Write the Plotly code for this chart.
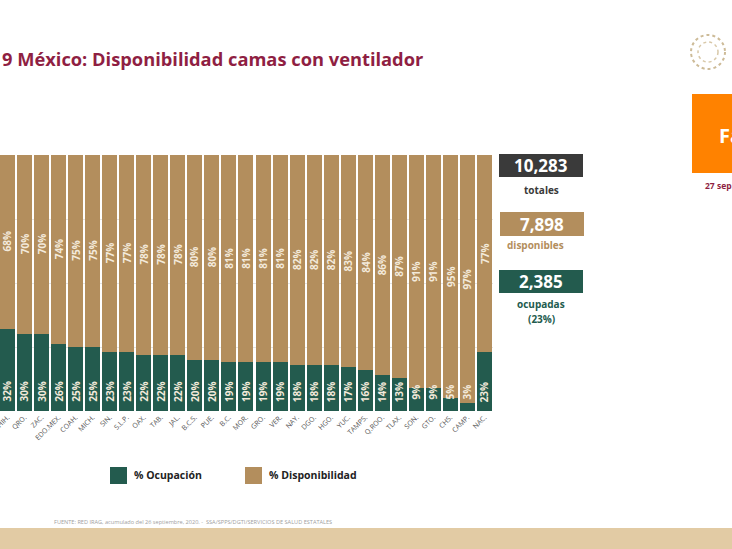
import plotly.graph_objects as go

W, H = 732, 549

estados = ["CHIH.", "QRO.", "ZAC.", "EDO.MEX.", "COAH.", "MICH.", "SIN.", "S.L.P.", "OAX.", "TAB.",
           "JAL.", "B.C.S.", "PUE.", "B.C.", "MOR.", "GRO.", "VER.", "NAY.", "DGO.", "HGO.",
           "YUC.", "TAMPS.", "Q.ROO.", "TLAX.", "SON.", "GTO.", "CHS.", "CAMP.", "NAC."]
ocupacion = [32, 30, 30, 26, 25, 25, 23, 23, 22, 22, 22, 20, 20, 19, 19, 19, 19, 18, 18, 18,
             17, 16, 14, 13, 9, 9, 5, 3, 23]
disponibilidad = [68, 70, 70, 74, 75, 75, 77, 77, 78, 78, 78, 80, 80, 81, 81, 81, 81, 82, 82, 82,
                  83, 84, 86, 87, 91, 91, 95, 97, 77]

series_names = ["% Ocupación", "% Disponibilidad"]
totales = "10,283"
disponibles = "7,898"
ocupadas = "2,385"
ocupadas_pct = "(23%)"

title = "9 México: Disponibilidad camas con ventilador"
source = "FUENTE: RED IRAG, acumulado del 26 septiembre, 2020. -  SSA/SPPS/DGTI/SERVICIOS DE SALUD ESTATALES"

GREEN = "#235B4E"
TAN = "#B38E5D"
MAROON = "#8F1F43"
DARK = "#3A3A3A"
FONT = "Open Sans"
LABEL = "#F3EADB"


def px(x):
    return x / W


def py(y):
    return 1 - y / H


fig = go.Figure()
fig.add_trace(go.Bar(x=estados, y=ocupacion, name=series_names[0], marker_color=GREEN,
                     marker_line_width=0, showlegend=False, hoverinfo="skip"))
fig.add_trace(go.Bar(x=estados, y=disponibilidad, name=series_names[1], marker_color=TAN,
                     marker_line_width=0, showlegend=False, hoverinfo="skip"))

annotations = []
for e, o, d in zip(estados, ocupacion, disponibilidad):
    annotations.append(dict(x=e, y=7.4, xref="x", yref="y", text=f"{o}%", showarrow=False,
                            xanchor="center", yanchor="middle", textangle=-90,
                            font=dict(family=FONT, size=10, color=LABEL, weight="bold")))
    annotations.append(dict(x=e, y=o + d / 2, xref="x", yref="y", text=f"{d}%", showarrow=False,
                            xanchor="center", yanchor="middle", textangle=-90,
                            font=dict(family=FONT, size=10, color=LABEL, weight="bold")))

shapes = []
# bottom band
shapes.append(dict(type="rect", xref="paper", yref="paper", x0=0, x1=1, y0=0, y1=py(528),
                   fillcolor="#E2CBA4", line_width=0, layer="below"))
# orange box
shapes.append(dict(type="rect", xref="paper", yref="paper", x0=px(692), x1=1.01, y0=py(173), y1=py(94),
                   fillcolor="#FF8200", line_width=0))
# seal
shapes.append(dict(type="circle", xref="paper", yref="paper", x0=px(691), x1=px(725), y0=py(69), y1=py(35),
                   fillcolor="rgba(0,0,0,0)", line=dict(color="#CDBB98", width=2, dash="dot")))
shapes.append(dict(type="circle", xref="paper", yref="paper", x0=px(698), x1=px(718), y0=py(62), y1=py(42),
                   fillcolor="rgba(0,0,0,0)", line=dict(color="#D8C8A8", width=1.5, dash="dot")))

# right panel boxes
boxes = [(499, 583, 154, 177, DARK, totales), (500, 584, 212, 236, TAN, disponibles),
         (499, 583, 270, 293, GREEN, ocupadas)]
for x0, x1, y0, y1, c, t in boxes:
    shapes.append(dict(type="rect", xref="paper", yref="paper", x0=px(x0), x1=px(x1), y0=py(y1), y1=py(y0),
                       fillcolor=c, line_width=0))
    annotations.append(dict(x=px((x0 + x1) / 2), y=py((y0 + y1) / 2), text=t,
                            font=dict(family=FONT, size=17, color="white", weight="bold")))

annotations += [
    dict(x=px(541), y=py(190), text="totales", font=dict(family=FONT, size=10, color=DARK, weight="bold")),
    dict(x=px(535), y=py(245), text="disponibles", font=dict(family=FONT, size=10, color=TAN, weight="bold")),
    dict(x=px(541), y=py(304), text="ocupadas", font=dict(family=FONT, size=10, color=GREEN, weight="bold")),
    dict(x=px(541), y=py(319), text=ocupadas_pct, font=dict(family=FONT, size=10, color=GREEN, weight="bold")),
    dict(x=px(717), y=py(135), text="Fa", xanchor="left", font=dict(family=FONT, size=20, color="white", weight="bold")),
    dict(x=px(703), y=py(185), text="27 sep", xanchor="left", font=dict(family=FONT, size=8.5, color=MAROON, weight="bold")),
    dict(x=0, y=py(59), text=title, xanchor="left", font=dict(family=FONT, size=18.3, color=MAROON, weight="bold")),
    dict(x=px(52), y=py(522), text=source, xanchor="left", font=dict(family=FONT, size=5.6, color="#A0A0A0")),
]

# custom legend
legend_items = [(110, series_names[0], GREEN), (245, series_names[1], TAN)]
for lx, name, c in legend_items:
    shapes.append(dict(type="rect", xref="paper", yref="paper", x0=px(lx), x1=px(lx + 17), y0=py(484), y1=py(467),
                       fillcolor=c, line_width=0))
    annotations.append(dict(x=px(lx + 22), y=py(475), text=name, xanchor="left",
                            font=dict(family=FONT, size=10.5, color="#222", weight="bold")))

for a in annotations:
    a.setdefault("xref", "paper")
    a.setdefault("yref", "paper")
    a.setdefault("showarrow", False)
    a.setdefault("xanchor", "center")
    a.setdefault("yanchor", "middle")

fig.update_layout(
    width=W, height=H, margin=dict(l=0, r=0, t=0, b=0),
    barmode="stack", bargap=0.12,
    paper_bgcolor="white", plot_bgcolor="white",
    xaxis=dict(domain=[0, px(493)], range=[-0.44, 28.5], tickangle=-45, automargin=False,
               tickfont=dict(family=FONT, size=7, color="#555"), showgrid=False, ticks="", showline=False),
    yaxis=dict(domain=[py(411), py(155)], range=[0, 100], dtick=25, showticklabels=False,
               gridcolor="#E4E4E4", gridwidth=1, zeroline=False, automargin=False),
    shapes=shapes, annotations=annotations,
)

fig.write_html("out.html", config={"displayModeBar": False},
               post_script="document.body.style.margin='0';document.body.style.overflow='hidden';")
